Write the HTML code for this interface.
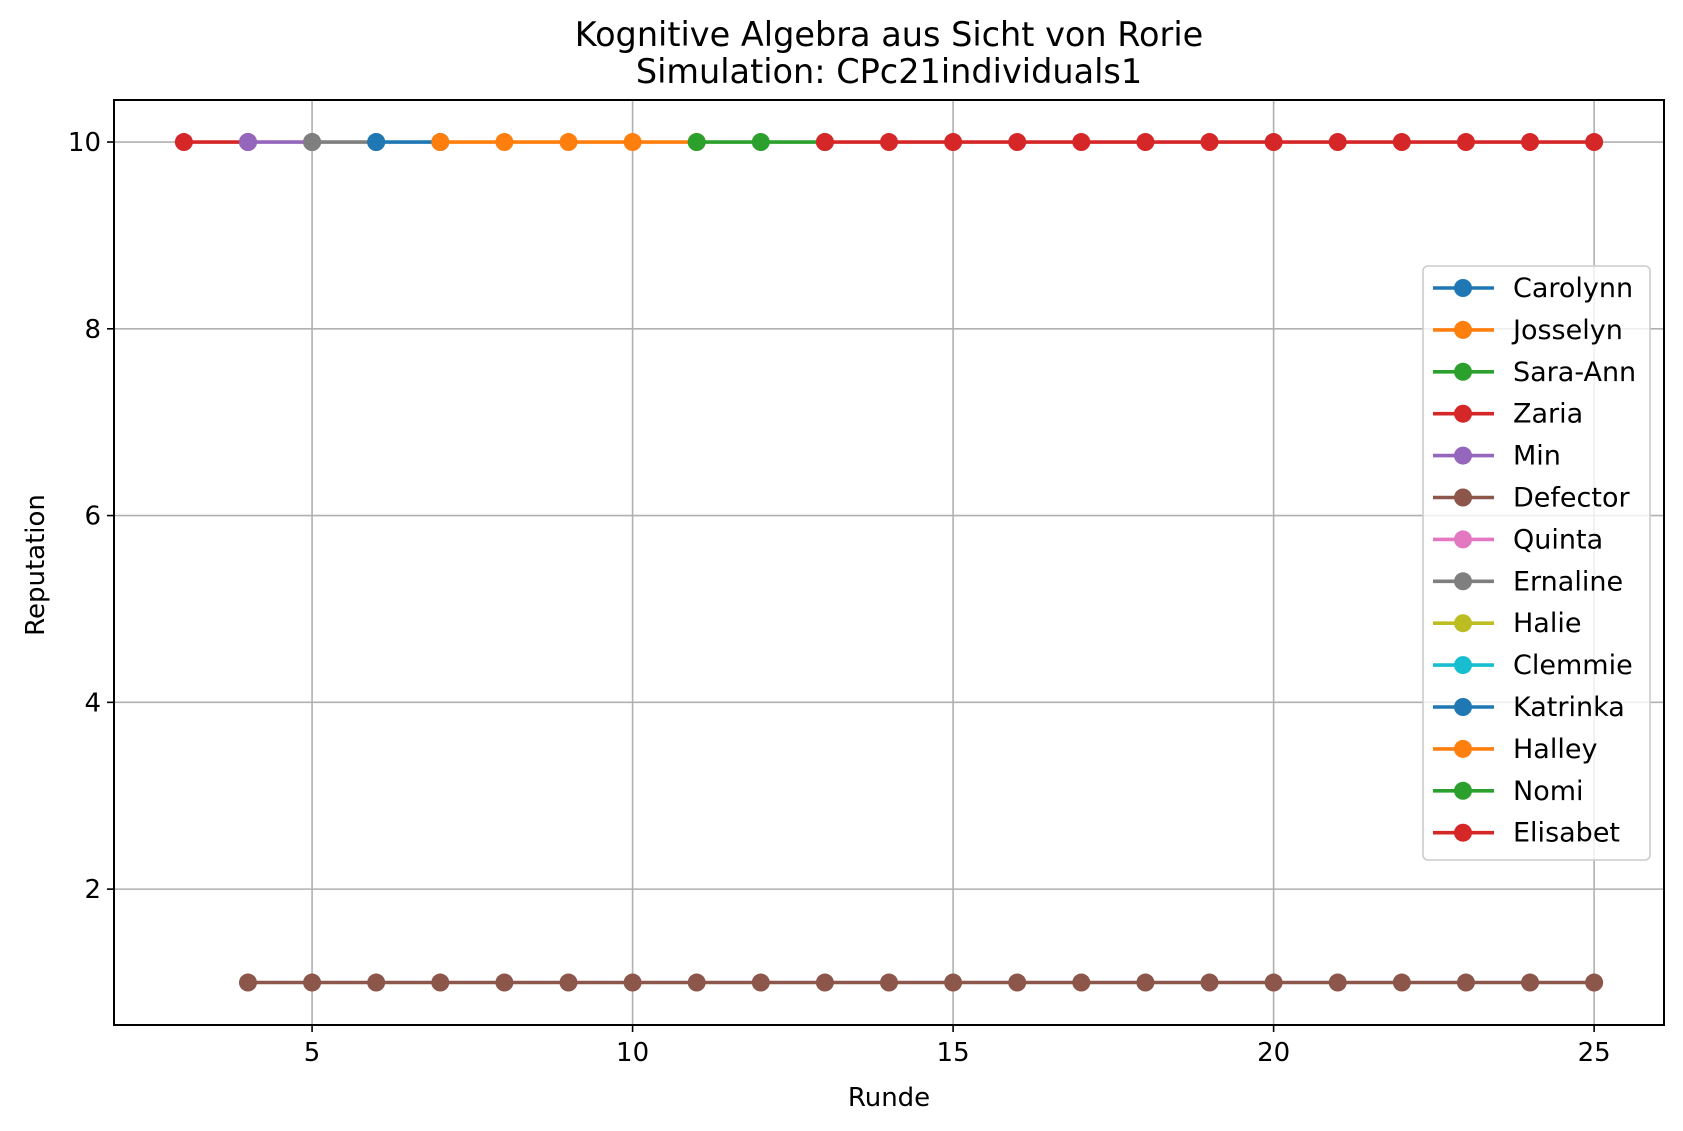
<!DOCTYPE html>
<html><head><meta charset="utf-8"><style>
html,body{margin:0;padding:0;background:#fff;}
svg{display:block;font-family:"DejaVu Sans","Liberation Sans",sans-serif;}
</style></head><body>
<svg id="chart" width="1683" height="1131" viewBox="0 0 1683 1131" xmlns="http://www.w3.org/2000/svg">
<rect width="1683" height="1131" fill="#fff"/>
<g id="grid"></g>
<g id="series"></g>
<rect x="114" y="100" width="1550" height="925" fill="none" stroke="#000" stroke-width="2"/>
<g id="ticks"></g>
<text x="889" y="46" font-size="33.5" text-anchor="middle">Kognitive Algebra aus Sicht von Rorie</text>
<text x="889" y="83" font-size="33.5" text-anchor="middle">Simulation: CPc21individuals1</text>
<text x="889" y="1106" font-size="26" text-anchor="middle">Runde</text>
<text x="44" y="565" font-size="26" text-anchor="middle" transform="rotate(-90 44 565)">Reputation</text>
<g id="legend"></g>
</svg>
<script>
const names = ["Carolynn","Josselyn","Sara-Ann","Zaria","Min","Defector","Quinta","Ernaline","Halie","Clemmie","Katrinka","Halley","Nomi","Elisabet"];
const colors = ["#1f77b4","#ff7f0e","#2ca02c","#d62728","#9467bd","#8c564b","#e377c2","#7f7f7f","#bcbd22","#17becf","#1f77b4","#ff7f0e","#2ca02c","#d62728"];
const seriesX = [[],[],[],[3,4],[4,5],[4,5,6,7,8,9,10,11,12,13,14,15,16,17,18,19,20,21,22,23,24,25],[],[5,6],[],[],[6,7],[7,8,9,10,11],[11,12,13],[13,14,15,16,17,18,19,20,21,22,23,24,25]];
const seriesY = [[],[],[],[10,10],[10,10],[1,1,1,1,1,1,1,1,1,1,1,1,1,1,1,1,1,1,1,1,1,1],[],[10,10],[],[],[10,10],[10,10,10,10,10],[10,10,10],[10,10,10,10,10,10,10,10,10,10,10,10,10]];
const xTicks = [5,10,15,20,25];
const yTicks = [2,4,6,8,10];
const NS="http://www.w3.org/2000/svg";
const L=114,R=1664,T=100,B=1025;
const xMin=1.91,xMax=26.09,yMin=0.545,yMax=10.45;
const sx=v=>L+(v-xMin)/(xMax-xMin)*(R-L);
const sy=v=>B-(v-yMin)/(yMax-yMin)*(B-T);
function mk(tag,attrs,parent){const e=document.createElementNS(NS,tag);for(const k in attrs)e.setAttribute(k,attrs[k]);parent.appendChild(e);return e;}
const grid=document.getElementById('grid'),ticks=document.getElementById('ticks');
xTicks.forEach(t=>{
  const g=mk('line',{x1:sx(t),x2:sx(t),y1:T,y2:B,stroke:'#b0b0b0','stroke-width':1.6},grid);
  
  
  mk('line',{x1:sx(t),x2:sx(t),y1:B,y2:B+7,stroke:'#000','stroke-width':1.6},ticks);
  const tx=mk('text',{x:sx(t),y:B+36,'font-size':26,'text-anchor':'middle'},ticks);
  tx.textContent=t;
  
  
});
yTicks.forEach(t=>{
  const g=mk('line',{x1:L,x2:R,y1:sy(t),y2:sy(t),stroke:'#b0b0b0','stroke-width':1.6},grid);
  
  
  mk('line',{x1:L-7,x2:L,y1:sy(t),y2:sy(t),stroke:'#000','stroke-width':1.6},ticks);
  const tx=mk('text',{x:L-13,y:sy(t)+9,'font-size':26,'text-anchor':'end'},ticks);
  tx.textContent=t;
  
  
});
const sg=document.getElementById('series');
names.forEach((n,i)=>{
  const xs=seriesX[i],ys=seriesY[i];
  if(!xs.length)return;
  const g=mk('g',{},sg);
  
  
  mk('polyline',{points:xs.map((x,j)=>sx(x)+','+sy(ys[j])).join(' '),fill:'none',stroke:colors[i],'stroke-width':3.6},g);
  xs.forEach((x,j)=>{
    const c=mk('circle',{cx:sx(x),cy:sy(ys[j]),r:9,fill:colors[i]},g);
    
    
  });
});
const lg=document.getElementById('legend');
const box=mk('rect',{x:1423,y:266,width:227,height:594,rx:5,fill:'#fff','fill-opacity':0.8,stroke:'#ccc','stroke-width':1.6},lg);


names.forEach((n,i)=>{
  const y=288+i*41.9;
  const g=mk('g',{},lg);
  
  
  mk('line',{x1:1433,x2:1494,y1:y,y2:y,stroke:colors[i],'stroke-width':3.6},g);
  mk('circle',{cx:1463,cy:y,r:9,fill:colors[i]},g);
  const t=mk('text',{x:1513,y:y+9,'font-size':27},g);
  t.textContent=n;
});
</script>
</body></html>
